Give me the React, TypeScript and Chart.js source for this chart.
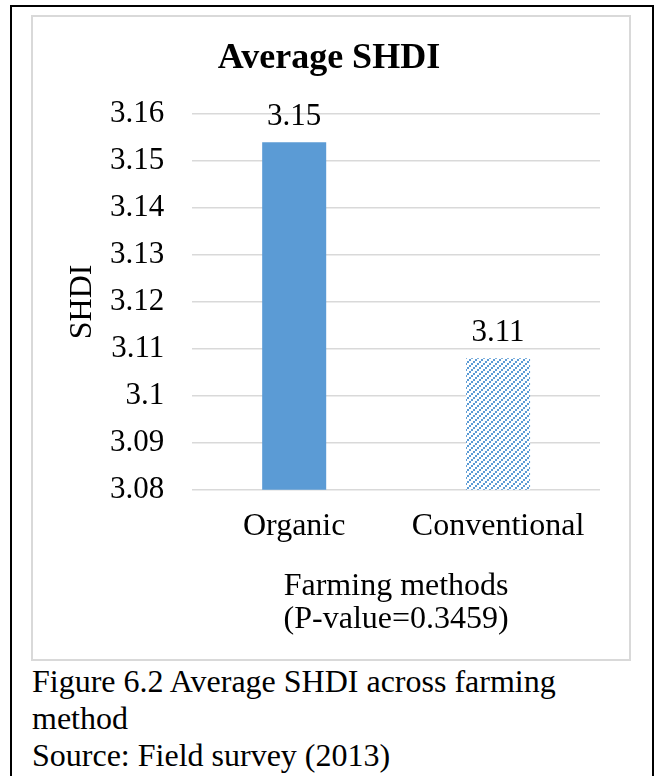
import React, { useEffect, useRef } from "react";
import { Chart, registerables } from "chart.js";

Chart.register(...registerables);

const chartTitle = "Average SHDI";
const categories = ["Organic", "Conventional"];
const shdiValues = [3.154, 3.108];
const yTicks = [3.08, 3.09, 3.1, 3.11, 3.12, 3.13, 3.14, 3.15, 3.16];
const yAxisTitle = "SHDI";
const xAxisTitle = ["Farming methods", "(P-value=0.3459)"];

const SERIF = "'Liberation Serif', 'Times New Roman', serif";
const BLUE = "#5B9BD5";

// Diagonal dotted hatch used for the second bar
function makeHatch(): CanvasPattern | string {
  const tile = document.createElement("canvas");
  tile.width = 6;
  tile.height = 6;
  const ctx = tile.getContext("2d");
  if (!ctx) return BLUE;
  ctx.fillStyle = "#ffffff";
  ctx.fillRect(0, 0, 6, 6);
  ctx.fillStyle = BLUE;
  ctx.fillRect(0, 4, 2, 2);
  ctx.fillRect(2, 2, 2, 2);
  ctx.fillRect(4, 0, 2, 2);
  const p = ctx.createPattern(tile, "repeat");
  return p || BLUE;
}

// Value labels above each bar, rounded to two decimals
const valueLabels = {
  id: "valueLabels",
  afterDatasetsDraw(chart: any) {
    const { ctx } = chart;
    const meta = chart.getDatasetMeta(0);
    ctx.save();
    ctx.font = `31px ${SERIF}`;
    ctx.fillStyle = "#000";
    ctx.textAlign = "center";
    ctx.textBaseline = "alphabetic";
    meta.data.forEach((bar: any, i: number) => {
      const v = chart.data.datasets[0].data[i] as number;
      ctx.fillText(v.toFixed(2), bar.x, bar.y - 17);
    });
    ctx.restore();
  },
};

// Chart heading centred on the canvas, plus the rotated y-axis title
const headings = {
  id: "headings",
  afterDraw(chart: any) {
    const { ctx, chartArea, width } = chart;
    ctx.save();
    ctx.fillStyle = "#000";
    ctx.textAlign = "center";
    ctx.textBaseline = "middle";
    ctx.font = `bold 36px ${SERIF}`;
    ctx.fillText(chartTitle, width / 2 - 2, 42);

    ctx.font = `32px ${SERIF}`;
    ctx.translate(chartArea.left - 109.5, (chartArea.top + chartArea.bottom) / 2);
    ctx.rotate(-Math.PI / 2);
    ctx.fillText(yAxisTitle, 0, 0);
    ctx.restore();
  },
};

export default function App() {
  const ref = useRef<HTMLCanvasElement>(null);

  useEffect(() => {
    if (!ref.current) return;
    const hatch = makeHatch();
    const chart = new Chart(ref.current, {
      type: "bar",
      data: {
        labels: categories,
        datasets: [
          {
            data: shdiValues,
            backgroundColor: [BLUE, hatch as any],
            borderWidth: 0,
            categoryPercentage: 1,
            barPercentage: 0.314,
          },
        ],
      },
      options: {
        animation: false,
        responsive: false,
        maintainAspectRatio: false,
        layout: { padding: { left: 49, right: 29, top: 97, bottom: 22 } },
        plugins: {
          legend: { display: false },
          tooltip: { enabled: false },
          title: { display: false },
        },
        scales: {
          x: {
            grid: { display: false, drawTicks: false },
            border: { display: false },
            ticks: {
              color: "#000",
              font: { family: SERIF, size: 32 },
              padding: 18,
              maxRotation: 0,
            },
            title: {
              display: true,
              text: xAxisTitle,
              color: "#000",
              font: { family: SERIF, size: 32, lineHeight: 1.06 },
              padding: { top: 5, bottom: 0 },
            },
          },
          y: {
            min: 3.08,
            max: 3.16,
            afterBuildTicks(scale: any) {
              scale.ticks = yTicks.map((v) => ({ value: v }));
            },
            grid: { color: "#d9d9d9", lineWidth: 1.5, drawTicks: false },
            border: { display: false },
            ticks: {
              color: "#000",
              font: { family: SERIF, size: 31 },
              padding: 28,
              callback: (v: any) => String(Number(Number(v).toFixed(2))),
            },
          },
        },
      },
      plugins: [valueLabels, headings],
    });
    return () => chart.destroy();
  }, []);

  return (
    <div
      style={{
        position: "absolute",
        left: 0,
        top: 0,
        width: 655,
        height: 776,
        background: "#fff",
        fontFamily: SERIF,
        overflow: "hidden",
      }}
    >
      <div
        style={{
          position: "absolute",
          left: 10,
          top: 5,
          width: 640,
          height: 790,
          borderLeft: "2px solid #000",
          borderTop: "2px solid #000",
          borderRight: "2px solid #000",
        }}
      />
      <div
        style={{
          position: "absolute",
          left: 31,
          top: 15,
          width: 596,
          height: 642,
          border: "2px solid #d9d9d9",
        }}
      >
        <canvas ref={ref} width={596} height={642} style={{ display: "block" }} />
      </div>
      <div
        style={{
          position: "absolute",
          left: 32,
          top: 663,
          fontSize: 32,
          lineHeight: "37px",
          color: "#000",
          whiteSpace: "nowrap",
        }}
      >
        <div>Figure 6.2 Average SHDI across farming</div>
        <div>method</div>
        <div>Source: Field survey (2013)</div>
      </div>
    </div>
  );
}
